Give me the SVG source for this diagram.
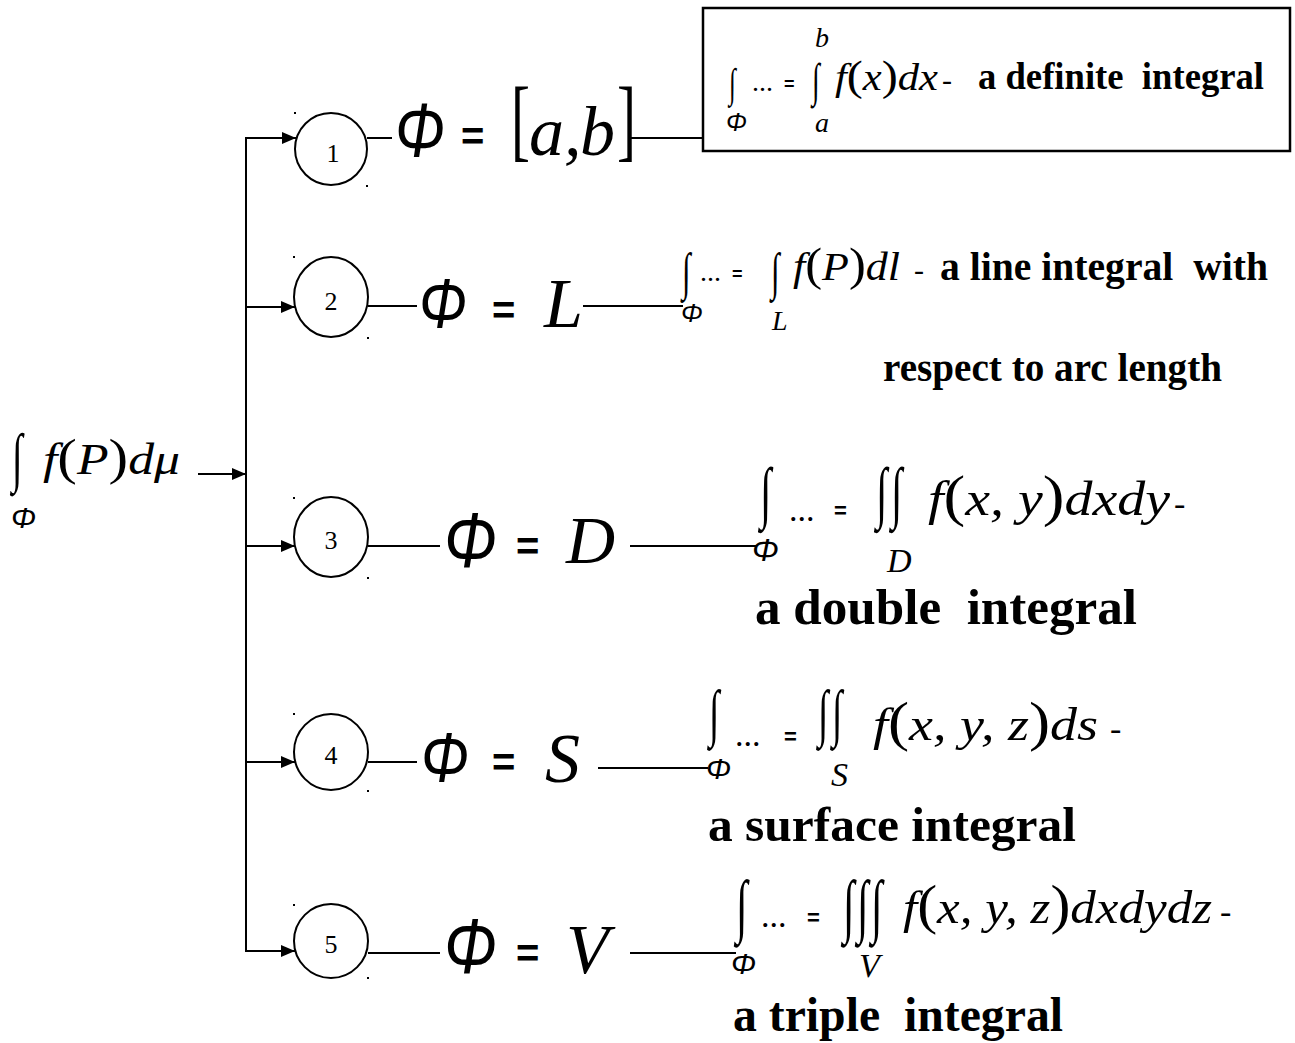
<svg xmlns="http://www.w3.org/2000/svg" width="1295" height="1043" viewBox="0 0 1295 1043">
<style>
.mi{font-family:"Liberation Serif","Times New Roman",serif;font-style:italic;fill:#000}
.rm{font-family:"Liberation Serif","Times New Roman",serif;font-style:normal;fill:#000}
.bd{font-family:"Liberation Serif","Times New Roman",serif;font-weight:bold;fill:#000}
.ph{font-family:"Liberation Sans",Arial,sans-serif;font-style:italic;fill:#000}
.eq{font-family:"Liberation Sans",Arial,sans-serif;font-weight:bold;fill:#000}
.in{font-family:"Liberation Serif","Times New Roman",serif;fill:#000}
.ln{stroke:#000;stroke-width:2;fill:none}
.cir{stroke:#000;stroke-width:2;fill:#fff}
.dot{fill:#000}
</style>
<defs>
<marker id="ah" viewBox="0 0 14 12" refX="14" refY="6" markerWidth="14" markerHeight="12" markerUnits="userSpaceOnUse" orient="auto">
<path d="M0,0 L14,6 L0,12 Z" fill="#000"/>
</marker>
</defs>

<g id="connectors">
<line class="ln" x1="246" y1="137" x2="246" y2="951"/>
<line class="ln" x1="198" y1="474" x2="246" y2="474" marker-end="url(#ah)"/>
<line class="ln" x1="245" y1="138" x2="296" y2="138" marker-end="url(#ah)"/>
<line class="ln" x1="246" y1="307" x2="295" y2="307" marker-end="url(#ah)"/>
<line class="ln" x1="246" y1="546" x2="295" y2="546" marker-end="url(#ah)"/>
<line class="ln" x1="246" y1="762" x2="295" y2="762" marker-end="url(#ah)"/>
<line class="ln" x1="245" y1="951" x2="295" y2="951" marker-end="url(#ah)"/>
<line class="ln" x1="367" y1="138" x2="392" y2="138"/>
<line class="ln" x1="630" y1="138" x2="703" y2="138"/>
<line class="ln" x1="368" y1="306" x2="417" y2="306"/>
<line class="ln" x1="583" y1="306" x2="683" y2="306"/>
<line class="ln" x1="368" y1="546" x2="440" y2="546"/>
<line class="ln" x1="630" y1="546" x2="757" y2="546"/>
<line class="ln" x1="368" y1="762" x2="417" y2="762"/>
<line class="ln" x1="598" y1="768" x2="708" y2="768"/>
<line class="ln" x1="368" y1="953" x2="440" y2="953"/>
<line class="ln" x1="630" y1="953" x2="736" y2="953"/>
</g>

<g id="source">
<text class="in" font-size="65" transform="translate(12,479) scale(0.6,1)">∫</text>
<text class="ph" x="11" y="528" font-size="30">Φ</text>
<text class="mi" x="43" y="474" font-size="44" textLength="137" lengthAdjust="spacingAndGlyphs">f<tspan class="rm" font-size="50">(</tspan>P<tspan class="rm" font-size="50">)</tspan>dμ</text>
</g>

<g id="node1">
<ellipse class="cir" cx="331" cy="149" rx="36" ry="36"/>
<rect class="dot" x="294" y="112" width="2" height="2"/>
<rect class="dot" x="366" y="185" width="2" height="2"/>
<text class="rm" x="333" y="162" font-size="26" text-anchor="middle">1</text>
<text class="ph" x="395" y="157" font-size="76" textLength="50" lengthAdjust="spacingAndGlyphs">Φ</text>
<text class="eq" x="461" y="150" font-size="40">=</text>
<text class="rm" font-size="92" transform="translate(511,150) scale(0.62,1)">[</text>
<text class="mi" x="529" y="155" font-size="70">a,</text>
<text class="mi" x="580" y="155" font-size="70">b</text>
<text class="rm" font-size="92" transform="translate(617,150) scale(0.62,1)">]</text>
</g>

<g id="def1">
<rect x="703" y="8" width="587" height="143" fill="none" stroke="#000" stroke-width="2.5"/>
<text class="in" font-size="41" transform="translate(729,97) scale(0.6,1)">∫</text>
<text class="ph" x="726" y="131" font-size="25">Φ</text>
<text class="rm" x="752" y="91" font-size="28">...</text>
<text class="eq" x="784" y="90" font-size="18">=</text>
<text class="in" font-size="47" transform="translate(812,96) scale(0.6,1)">∫</text>
<text class="mi" x="815" y="47" font-size="28">b</text>
<text class="mi" x="815" y="132" font-size="28">a</text>
<text class="mi" x="835" y="90" font-size="38" textLength="103" lengthAdjust="spacingAndGlyphs">f<tspan class="rm" font-size="43">(</tspan>x<tspan class="rm" font-size="43">)</tspan>dx</text>
<text class="rm" x="942" y="90" font-size="30">-</text>
<text class="bd" x="978" y="89" font-size="37" textLength="286" lengthAdjust="spacingAndGlyphs" xml:space="preserve">a definite  integral</text>
</g>

<g id="node2">
<ellipse class="cir" cx="331" cy="297" rx="37" ry="40"/>
<rect class="dot" x="293" y="256" width="2" height="2"/>
<rect class="dot" x="367" y="337" width="2" height="2"/>
<text class="rm" x="331" y="310" font-size="26" text-anchor="middle">2</text>
<text class="ph" x="419" y="328" font-size="70" textLength="48" lengthAdjust="spacingAndGlyphs">Φ</text>
<text class="eq" x="492" y="324" font-size="40">=</text>
<text class="mi" x="544" y="327" font-size="70">L</text>
</g>

<g id="def2">
<text class="in" font-size="52" transform="translate(682,289) scale(0.6,1)">∫</text>
<text class="ph" x="681" y="322" font-size="26">Φ</text>
<text class="rm" x="700" y="281" font-size="28">...</text>
<text class="eq" x="732" y="280" font-size="18">=</text>
<text class="in" font-size="52" transform="translate(771,289) scale(0.6,1)">∫</text>
<text class="mi" x="772" y="330" font-size="28">L</text>
<text class="mi" x="793" y="280" font-size="40" textLength="107" lengthAdjust="spacingAndGlyphs">f<tspan class="rm" font-size="46">(</tspan>P<tspan class="rm" font-size="46">)</tspan>dl</text>
<text class="rm" x="914" y="280" font-size="30">-</text>
<text class="bd" x="940" y="280" font-size="40" textLength="328" lengthAdjust="spacingAndGlyphs" xml:space="preserve">a line integral  with</text>
<text class="bd" x="883" y="381" font-size="39" textLength="339" lengthAdjust="spacingAndGlyphs">respect to arc length</text>
</g>

<g id="node3">
<ellipse class="cir" cx="331" cy="537" rx="37" ry="40"/>
<rect class="dot" x="293" y="497" width="2" height="2"/>
<rect class="dot" x="367" y="577" width="2" height="2"/>
<text class="rm" x="331" y="549" font-size="26" text-anchor="middle">3</text>
<text class="ph" x="444" y="567" font-size="78" textLength="53" lengthAdjust="spacingAndGlyphs">Φ</text>
<text class="eq" x="516" y="560" font-size="40">=</text>
<text class="mi" x="566" y="563" font-size="68">D</text>
</g>

<g id="def3">
<text class="in" font-size="68" transform="translate(760,515) scale(0.6,1)">∫</text>
<text class="ph" x="752" y="561" font-size="32">Φ</text>
<text class="rm" x="789" y="521" font-size="34">...</text>
<text class="eq" x="834" y="518" font-size="22">=</text>
<text class="in" font-size="68" transform="translate(876,515) scale(0.6,1)">∫</text>
<text class="in" font-size="68" transform="translate(891,515) scale(0.6,1)">∫</text>
<text class="mi" x="887" y="572" font-size="34">D</text>
<text class="mi" x="928" y="515" font-size="48" textLength="242" lengthAdjust="spacingAndGlyphs">f<tspan class="rm" font-size="56">(</tspan>x, y<tspan class="rm" font-size="56">)</tspan>dxdy</text>
<text class="rm" x="1174" y="515" font-size="34">-</text>
<text class="bd" x="755" y="624" font-size="50" textLength="382" lengthAdjust="spacingAndGlyphs" xml:space="preserve">a double  integral</text>
</g>

<g id="node4">
<ellipse class="cir" cx="331" cy="752" rx="37" ry="38"/>
<rect class="dot" x="293" y="713" width="2" height="2"/>
<rect class="dot" x="367" y="790" width="2" height="2"/>
<text class="rm" x="331" y="764" font-size="26" text-anchor="middle">4</text>
<text class="ph" x="421" y="782" font-size="70" textLength="48" lengthAdjust="spacingAndGlyphs">Φ</text>
<text class="eq" x="492" y="776" font-size="40">=</text>
<text class="mi" x="545" y="782" font-size="70">S</text>
</g>

<g id="def4">
<text class="in" font-size="63" transform="translate(709,734) scale(0.6,1)">∫</text>
<text class="ph" x="706" y="779" font-size="30">Φ</text>
<text class="rm" x="735" y="746" font-size="34">...</text>
<text class="eq" x="784" y="744" font-size="22">=</text>
<text class="in" font-size="63" transform="translate(818,734) scale(0.6,1)">∫</text>
<text class="in" font-size="63" transform="translate(832,734) scale(0.6,1)">∫</text>
<text class="mi" x="831" y="786" font-size="34">S</text>
<text class="mi" x="873" y="740" font-size="46" textLength="225" lengthAdjust="spacingAndGlyphs">f<tspan class="rm" font-size="54">(</tspan>x, y, z<tspan class="rm" font-size="54">)</tspan>ds</text>
<text class="rm" x="1110" y="740" font-size="34">-</text>
<text class="bd" x="708" y="841" font-size="48" textLength="368" lengthAdjust="spacingAndGlyphs">a surface integral</text>
</g>

<g id="node5">
<ellipse class="cir" cx="331" cy="941" rx="37" ry="37"/>
<rect class="dot" x="293" y="904" width="2" height="2"/>
<rect class="dot" x="367" y="977" width="2" height="2"/>
<text class="rm" x="331" y="953" font-size="26" text-anchor="middle">5</text>
<text class="ph" x="444" y="973" font-size="78" textLength="53" lengthAdjust="spacingAndGlyphs">Φ</text>
<text class="eq" x="516" y="967" font-size="40">=</text>
<text class="mi" x="566" y="973" font-size="70">V</text>
</g>

<g id="def5">
<text class="in" font-size="70" transform="translate(736,929) scale(0.6,1)">∫</text>
<text class="ph" x="731" y="974" font-size="30">Φ</text>
<text class="rm" x="761" y="927" font-size="34">...</text>
<text class="eq" x="807" y="925" font-size="22">=</text>
<text class="in" font-size="70" transform="translate(843,929) scale(0.6,1)">∫</text>
<text class="in" font-size="70" transform="translate(857,929) scale(0.6,1)">∫</text>
<text class="in" font-size="70" transform="translate(871,929) scale(0.6,1)">∫</text>
<text class="mi" x="859" y="977" font-size="34">V</text>
<text class="mi" x="903" y="923" font-size="46" textLength="309" lengthAdjust="spacingAndGlyphs">f<tspan class="rm" font-size="54">(</tspan>x, y, z<tspan class="rm" font-size="54">)</tspan>dxdydz</text>
<text class="rm" x="1220" y="923" font-size="34">-</text>
<text class="bd" x="733" y="1031" font-size="48" textLength="330" lengthAdjust="spacingAndGlyphs" xml:space="preserve">a triple  integral</text>
</g>
</svg>
